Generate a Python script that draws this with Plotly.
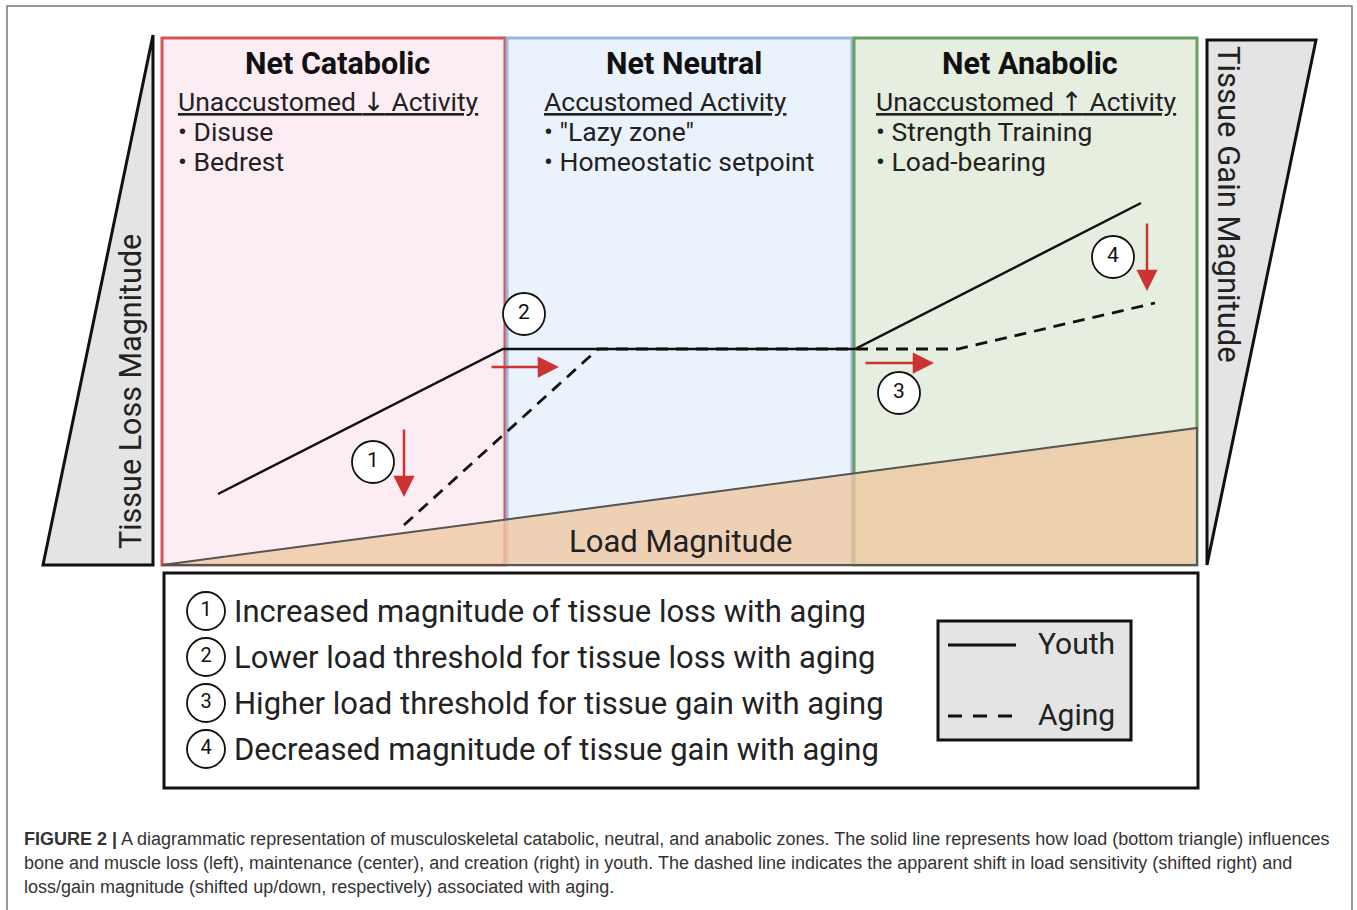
import plotly.graph_objects as go

# ---------------- data ----------------
zone_titles = ["Net Catabolic", "Net Neutral", "Net Anabolic"]
zone_subtitles = ["Unaccustomed ↓ Activity", "Accustomed Activity", "Unaccustomed ↑ Activity"]
zone_bullets = [["Disuse", "Bedrest"], ['"Lazy zone"', "Homeostatic setpoint"], ["Strength Training", "Load-bearing"]]
zone_left = [162, 507, 854]
zone_right = [505, 852, 1197]
zone_text_x = [176, 542, 874]
zone_fill = ["#fcedf4", "#eaf2fc", "#e5eedf"]
zone_edge = ["#d35454", "#9cb6df", "#68a060"]
zone_top, zone_bottom = 38, 565

youth_x = [218, 503, 855, 1141]
youth_y = [494, 349, 349, 203]
aging_x = [404, 598, 958, 1155]
aging_y = [525, 349, 349, 303]

load_x = [162, 1197, 1197]
load_y = [565, 428, 565]
loss_x = [153, 153, 43]
loss_y = [35, 565, 565]
gain_x = [1207, 1316, 1207]
gain_y = [40, 40, 565]

arrow_tail_x = [404, 490, 864, 1147]
arrow_tail_y = [428, 367, 363, 222]
arrow_head_x = [404, 559, 934, 1147]
arrow_head_y = [497, 367, 363, 291]

marker_labels = ["1", "2", "3", "4"]
marker_x = [373, 524, 899, 1113]
marker_y = [462, 314, 393, 257]

notes = ["Increased magnitude of tissue loss with aging",
         "Lower load threshold for tissue loss with aging",
         "Higher load threshold for tissue gain with aging",
         "Decreased magnitude of tissue gain with aging"]
note_y = [611, 657, 703, 749]

caption_lines = [
    "<b>FIGURE 2 |</b> A diagrammatic representation of musculoskeletal catabolic, neutral, and anabolic zones. The solid line represents how load (bottom triangle) influences",
    "bone and muscle loss (left), maintenance (center), and creation (right) in youth. The dashed line indicates the apparent shift in load sensitivity (shifted right) and",
    "loss/gain magnitude (shifted up/down, respectively) associated with aging.",
]
caption_y = [839, 863, 887]

FONT = "Roboto, 'Open Sans', sans-serif"

fig = go.Figure()
shapes = []
ann = []

# outer frame
shapes.append(dict(type="rect", x0=7, x1=1352, y0=6, y1=920, line=dict(color="#777", width=1.5),
                   fillcolor="rgba(0,0,0,0)", layer="below"))

# zone boxes
for i in range(3):
    shapes.append(dict(type="rect", x0=zone_left[i], x1=zone_right[i], y0=zone_top, y1=zone_bottom,
                       fillcolor=zone_fill[i], line=dict(color=zone_edge[i], width=3), layer="below"))


def path(xs, ys):
    return "M " + " L ".join(f"{x},{y}" for x, y in zip(xs, ys)) + " Z"


# load triangle
shapes.append(dict(type="path", path=path(load_x, load_y), fillcolor="rgba(238,200,160,0.78)",
                   line=dict(color="#555", width=2), layer="below"))
# side triangles
shapes.append(dict(type="path", path=path(loss_x, loss_y), fillcolor="#e4e4e4",
                   line=dict(color="#111", width=3), layer="below"))
shapes.append(dict(type="path", path=path(gain_x, gain_y), fillcolor="#e4e4e4",
                   line=dict(color="#111", width=3), layer="below"))

# bottom notes box
shapes.append(dict(type="rect", x0=164, x1=1198, y0=573, y1=788, fillcolor="white",
                   line=dict(color="#111", width=3), layer="below"))
# legend box
shapes.append(dict(type="rect", x0=938, x1=1131, y0=621, y1=740, fillcolor="#e4e4e4",
                   line=dict(color="#111", width=3), layer="below"))

# lines
fig.add_trace(go.Scatter(x=youth_x, y=youth_y, mode="lines", line=dict(color="#111", width=2.5),
                         hoverinfo="skip", showlegend=False))
fig.add_trace(go.Scatter(x=aging_x, y=aging_y, mode="lines", line=dict(color="#111", width=2.8, dash="12px,8px"),
                         hoverinfo="skip", showlegend=False))
# legend sample lines
fig.add_trace(go.Scatter(x=[948, 1016], y=[645, 645], mode="lines", line=dict(color="#111", width=2.8),
                         hoverinfo="skip", showlegend=False))
fig.add_trace(go.Scatter(x=[948, 1016], y=[716, 716], mode="lines", line=dict(color="#111", width=2.8, dash="14px,11px"),
                         hoverinfo="skip", showlegend=False))

# circled numbers in diagram
fig.add_trace(go.Scatter(x=marker_x, y=marker_y, mode="markers+text", text=marker_labels,
                         textposition="middle center", textfont=dict(family=FONT, size=21, color="#111"),
                         marker=dict(size=42, color="white", line=dict(color="#111", width=1.8)),
                         hoverinfo="skip", showlegend=False))
# circled numbers in notes
fig.add_trace(go.Scatter(x=[206] * 4, y=note_y, mode="markers+text", text=marker_labels,
                         textposition="middle center", textfont=dict(family=FONT, size=20, color="#111"),
                         marker=dict(size=38, color="white", line=dict(color="#111", width=1.8)),
                         hoverinfo="skip", showlegend=False))

# arrows
for tx, ty, hx, hy in zip(arrow_tail_x, arrow_tail_y, arrow_head_x, arrow_head_y):
    ann.append(dict(x=hx, y=hy, ax=tx, ay=ty, xref="x", yref="y", axref="x", ayref="y", text="",
                    showarrow=True, arrowhead=2, arrowsize=1.7, arrowwidth=2.5, arrowcolor="#cc3333"))


def arrow_font(s):
    for a in ("↓", "↑"):
        s = s.replace(a, f"<span style='font-family:DejaVu Sans'>{a}</span>")
    return s


# zone texts
for i in range(3):
    cx = (zone_left[i] + zone_right[i]) / 2 + 4
    ann.append(dict(x=cx, y=63, text=f"<b>{zone_titles[i]}</b>", showarrow=False,
                    font=dict(family=FONT, size=30.5, color="#111"), xanchor="center", yanchor="middle"))
    ann.append(dict(x=zone_text_x[i], y=101, text=f"<u>{arrow_font(zone_subtitles[i])}</u>", showarrow=False,
                    font=dict(family=FONT, size=26.5, color="#222"), xanchor="left", yanchor="middle"))
    for j, b in enumerate(zone_bullets[i]):
        ann.append(dict(x=zone_text_x[i], y=131 + 30 * j, text=f"• {b}", showarrow=False,
                        font=dict(family=FONT, size=26.5, color="#222"), xanchor="left", yanchor="middle"))

# axis-like labels
ann.append(dict(x=130, y=392, text="Tissue Loss Magnitude", textangle=-90, showarrow=False,
                font=dict(family=FONT, size=30.5, color="#222"), xanchor="center", yanchor="middle"))
ann.append(dict(x=1229, y=204, text="Tissue Gain Magnitude", textangle=90, showarrow=False,
                font=dict(family=FONT, size=31, color="#222"), xanchor="center", yanchor="middle"))
ann.append(dict(x=681, y=541, text="Load Magnitude", showarrow=False,
                font=dict(family=FONT, size=31, color="#222"), xanchor="center", yanchor="middle"))

# notes text
for t, y in zip(notes, note_y):
    ann.append(dict(x=232, y=y, text=t, showarrow=False, font=dict(family=FONT, size=31, color="#222"),
                    xanchor="left", yanchor="middle"))

# legend text
ann.append(dict(x=1036, y=643, text="Youth", showarrow=False, font=dict(family=FONT, size=30, color="#222"),
                xanchor="left", yanchor="middle"))
ann.append(dict(x=1036, y=714, text="Aging", showarrow=False, font=dict(family=FONT, size=30, color="#222"),
                xanchor="left", yanchor="middle"))

# caption
for t, y in zip(caption_lines, caption_y):
    ann.append(dict(x=22, y=y, text=t, showarrow=False,
                    font=dict(family="'Liberation Sans', Arial, sans-serif", size=18, color="#333"),
                    xanchor="left", yanchor="middle"))

fig.update_layout(
    width=1357, height=910,
    margin=dict(l=0, r=0, t=0, b=0),
    paper_bgcolor="white", plot_bgcolor="white",
    xaxis=dict(range=[0, 1357], visible=False, fixedrange=True),
    yaxis=dict(range=[910, 0], visible=False, fixedrange=True),
    shapes=shapes, annotations=ann, showlegend=False,
)

fig.write_html("out.html", config={"displayModeBar": False},
               post_script="document.body.style.margin='0';document.body.style.overflow='hidden';")
